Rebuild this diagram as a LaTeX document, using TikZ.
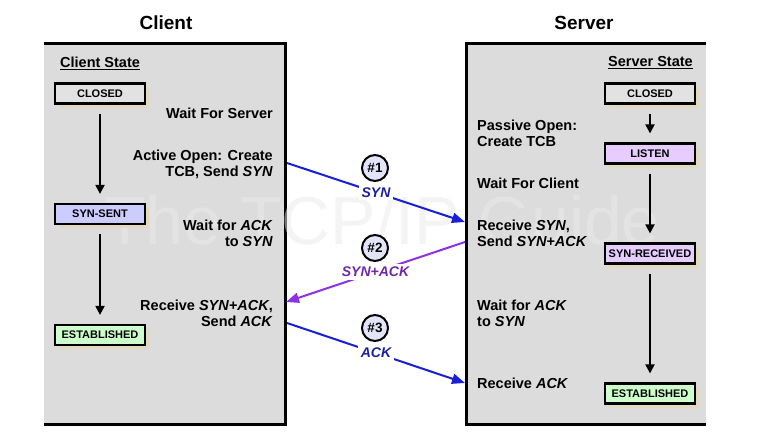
\documentclass[tikz,border=0pt]{standalone}
\usepackage{fontspec}
\setmainfont{Liberation Sans}
\usetikzlibrary{arrows.meta,shadows}

\definecolor{panel}{RGB}{220,220,220}
\definecolor{closedfill}{RGB}{226,226,226}
\definecolor{sentfill}{RGB}{204,204,255}
\definecolor{listenfill}{RGB}{230,204,255}
\definecolor{estfill}{RGB}{204,255,204}
\definecolor{shadowtan}{RGB}{226,218,190}
\definecolor{synblue}{RGB}{25,30,215}
\definecolor{synlabel}{RGB}{30,30,160}
\definecolor{ackpurple}{RGB}{140,50,230}
\definecolor{acklabel}{RGB}{112,40,170}
\definecolor{stepfill}{RGB}{228,228,248}
\definecolor{mark}{RGB}{235,235,235}

\tikzset{
  title/.style={font=\fontsize{19}{22}\selectfont\bfseries, inner sep=0},
  note/.style={font=\fontsize{14.5}{16}\selectfont\bfseries, inner sep=0},
  heading/.style={font=\fontsize{14.5}{16}\selectfont\bfseries, inner sep=0},
  statebox/.style={draw=black, line width=2.2pt, minimum width=90pt,
    minimum height=20pt, inner sep=0,
    font=\fontsize{11}{12}\selectfont\bfseries,
    general shadow={fill=shadowtan, shadow xshift=4pt, shadow yshift=-4pt}},
  flow/.style={line width=2pt, -{Triangle[length=9pt,width=9pt]},
    shorten <=9pt, shorten >=9pt},
  segment/.style={line width=2pt, -{Triangle[length=13pt,width=10pt]}},
  seglabel/.style={fill=white, inner sep=3pt,
    font=\fontsize{14}{16}\selectfont\bfseries\itshape},
  stepno/.style={circle, draw=black, line width=2pt, fill=stepfill,
    minimum size=26pt, inner sep=0, font=\fontsize{13.5}{16}\selectfont\bfseries}
}

\begin{document}
\begin{tikzpicture}[x=1pt,y=-1pt]
\useasboundingbox[fill=white] (0,0) rectangle (771,444);

% side panels, bordered on top, bottom and the inner side
\fill[panel] (44,44) rectangle (285,424);
\fill[panel] (466,44) rectangle (706,424);
\draw[line width=3pt, line join=miter] (44,44) -- (285,44) -- (285,424) -- (44,424);
\draw[line width=3pt, line join=miter] (706,44) -- (466,44) -- (466,424) -- (706,424);

% faint watermark
\node[font=\fontsize{68}{70}\selectfont, text=mark, opacity=0.5, inner sep=0,
  anchor=base] (wm) at (382,244) {The TCP/IP Guide};

% titles
\node[title] (client) at (166,23) {Client};
\node[title] (server) at (584,23) {Server};

% client side
\node[heading, anchor=west] (cstate) at (60,63) {\underline{Client State}};
\node[statebox, fill=closedfill] (cclosed) at (100,93.5) {CLOSED};
\node[statebox, fill=sentfill] (csent) at (100,214) {SYN-SENT};
\node[statebox, fill=estfill] (cest) at (100,335) {ESTABLISHED};
\draw[flow] (cclosed) -- (csent);
\draw[flow] (csent) -- (cest);

\node[note, anchor=east] (cwait) at (273,113) {Wait For Server};
\node[note, anchor=east, align=right] (copen) at (273,164)
  {Active Open: Create\\TCB, Send \textit{SYN}};
\node[note, anchor=east, align=right] (cwack) at (273,233)
  {Wait for \textit{ACK}\\to \textit{SYN}};
\node[note, anchor=east, align=right] (crecv) at (273,313)
  {Receive \textit{SYN+ACK},\\Send \textit{ACK}};

% server side
\node[heading, anchor=east] (sstate) at (693,63) {\underline{Server State}};
\node[statebox, fill=closedfill] (sclosed) at (650,93.5) {CLOSED};
\node[statebox, fill=listenfill] (slisten) at (650,153.5) {LISTEN};
\node[statebox, fill=listenfill] (srcvd) at (650,253.5) {SYN-RECEIVED};
\node[statebox, fill=estfill] (sest) at (650,393.5) {ESTABLISHED};
\draw[flow] (sclosed) -- (slisten);
\draw[flow] (slisten) -- (srcvd);
\draw[flow] (srcvd) -- (sest);

\node[note, anchor=west, align=left] (sopen) at (477,133.5)
  {Passive Open:\\Create TCB};
\node[note, anchor=west] (swait) at (477,183) {Wait For Client};
\node[note, anchor=west, align=left] (srecv) at (477,233.5)
  {Receive \textit{SYN},\\Send \textit{SYN+ACK}};
\node[note, anchor=west, align=left] (swack) at (477,313.5)
  {Wait for \textit{ACK}\\to \textit{SYN}};
\node[note, anchor=west] (sack) at (477,383) {Receive \textit{ACK}};

% segment end points on the panel edges
\coordinate (c1) at (287,163);
\coordinate (s1) at (465,222);
\coordinate (s2) at (465,242);
\coordinate (c2) at (286,302);
\coordinate (c3) at (287,323);
\coordinate (s3) at (465,383);

% handshake segments
\draw[segment, synblue] (c1) -- node[seglabel, text=synlabel] (l1) {SYN} (s1);
\draw[segment, ackpurple] (s2) -- node[seglabel, text=acklabel] (l2) {SYN+ACK} (c2);
\draw[segment, synblue] (c3) -- node[seglabel, text=synlabel] (l3) {ACK} (s3);

\node[stepno] (n1) at (375,168) {\#1};
\node[stepno] (n2) at (375,248) {\#2};
\node[stepno] (n3) at (375,328) {\#3};
\end{tikzpicture}
\end{document}
